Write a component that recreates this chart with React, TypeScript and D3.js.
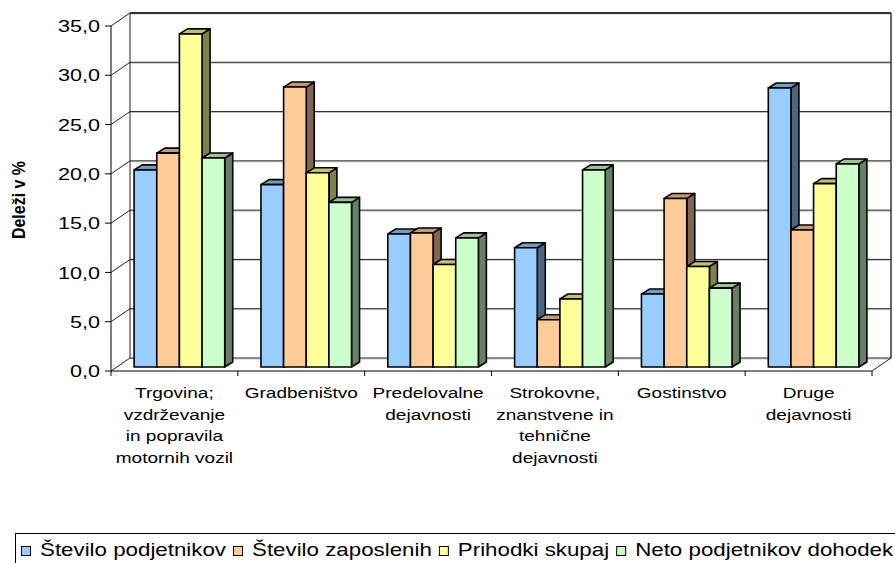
import React, { useEffect, useRef } from 'react';
import * as d3 from 'd3';

// category labels, one entry per line
const categories = [
    ['Trgovina;', 'vzdrževanje', 'in popravila', 'motornih vozil'],
    ['Gradbeništvo'],
    ['Predelovalne', 'dejavnosti'],
    ['Strokovne,', 'znanstvene in', 'tehnične', 'dejavnosti'],
    ['Gostinstvo'],
    ['Druge', 'dejavnosti'],
];
const seriesNames = ['Število podjetnikov', 'Število zaposlenih', 'Prihodki skupaj', 'Neto podjetnikov dohodek'];
const steviloPodjetnikov = [20.0, 18.5, 13.5, 12.1, 7.4, 28.3];
const steviloZaposlenih = [21.7, 28.4, 13.6, 4.8, 17.1, 13.9];
const prihodkiSkupaj = [33.8, 19.7, 10.4, 6.9, 10.2, 18.6];
const netoDohodek = [21.2, 16.7, 13.1, 20.0, 8.0, 20.6];
const yTicks = [0, 5, 10, 15, 20, 25, 30, 35];
const yTitle = 'Deleži v %';
const colors = ['#99CCFF', '#FFCC99', '#FFFF99', '#CCFFCC'];

const W = 895;
const H = 563;
const SX = 1.27; // the original text is stretched sideways
const FONT = '"Liberation Sans", Arial, sans-serif';

const shade = (c: string, k: number) => {
    const r = d3.rgb(c);
    return d3.rgb(r.r * k, r.g * k, r.b * k).formatHex();
};
const fmt = (v: number) => v.toFixed(1).replace('.', ',');

const App = () => {
    const svgRef = useRef<SVGSVGElement>(null);

    useEffect(() => {
        const svg = d3.select(svgRef.current);
        svg.selectAll('*').remove();

        const series = [steviloPodjetnikov, steviloZaposlenih, prihodkiSkupaj, netoDohodek];
        const x0 = 111, x1 = 872;
        const DX = 19, DY = -13; // depth of the plot box
        const BX = 5, BY = -4;   // bars' front plane
        const SDX = 8, SDY = -5; // bar depth

        const y = d3.scaleLinear().domain([0, 35]).range([371, 26]);
        const xBand = d3.scaleBand<number>()
            .domain(categories.map((_, i) => i))
            .range([x0, x1]);
        const bw = xBand.bandwidth();
        const w = bw / 5.6;
        const gap = bw - 4 * w;

        const grid = svg.append('g');
        // left wall diagonals + back wall gridlines
        yTicks.forEach(t => {
            const yy = y(t);
            grid.append('line')
                .attr('x1', x0 + DX).attr('x2', x1 + DX)
                .attr('y1', yy + DY + 1).attr('y2', yy + DY + 1)
                .attr('stroke', '#c8c8c8').attr('stroke-width', 1);
            grid.append('line')
                .attr('x1', x0 + DX).attr('x2', x1 + DX)
                .attr('y1', yy + DY).attr('y2', yy + DY)
                .attr('stroke', t === 35 ? '#333' : '#222')
                .attr('stroke-width', t === 35 ? 2 : 1);
            grid.append('line')
                .attr('x1', x0).attr('y1', yy)
                .attr('x2', x0 + DX).attr('y2', yy + DY)
                .attr('stroke', '#222').attr('stroke-width', 1);
        });
        grid.append('line')
            .attr('x1', x0 + DX).attr('x2', x0 + DX)
            .attr('y1', y(35) + DY).attr('y2', y(0) + DY)
            .attr('stroke', '#222');
        grid.append('line')
            .attr('x1', x1 + DX).attr('x2', x1 + DX)
            .attr('y1', y(35) + DY).attr('y2', y(0) + DY)
            .attr('stroke', '#333').attr('stroke-width', 1.5);
        // floor edges
        grid.append('line')
            .attr('x1', x1).attr('y1', y(0))
            .attr('x2', x1 + DX).attr('y2', y(0) + DY)
            .attr('stroke', '#222');

        // bars
        const bars = svg.append('g')
            .attr('stroke', '#000').attr('stroke-width', 1.6).attr('stroke-linejoin', 'round');
        categories.forEach((_, ci) => {
            series.forEach((vals, si) => {
                const v = vals[ci];
                const bx = (xBand(ci) as number) + gap / 2 + si * w + BX;
                const top = y(v) + BY;
                const bot = y(0) + BY;
                const c = colors[si];
                bars.append('path')
                    .attr('d', `M${bx + w},${bot}L${bx + w + SDX},${bot + SDY}L${bx + w + SDX},${top + SDY}L${bx + w},${top}Z`)
                    .attr('fill', shade(c, 0.5));
                bars.append('path')
                    .attr('d', `M${bx},${top}L${bx + SDX},${top + SDY}L${bx + w + SDX},${top + SDY}L${bx + w},${top}Z`)
                    .attr('fill', shade(c, 0.76));
                bars.append('rect')
                    .attr('x', bx).attr('y', top)
                    .attr('width', w).attr('height', bot - top)
                    .attr('fill', c);
            });
        });

        // axes
        const axes = svg.append('g').attr('stroke', '#000').attr('stroke-width', 1);
        axes.append('line').attr('x1', x0).attr('x2', x0).attr('y1', y(35)).attr('y2', y(0));
        axes.append('line').attr('x1', x0).attr('x2', x1).attr('y1', y(0)).attr('y2', y(0));
        yTicks.forEach(t => {
            axes.append('line').attr('x1', x0 - 6).attr('x2', x0).attr('y1', y(t)).attr('y2', y(t));
        });
        categories.map((_, i) => xBand(i) as number).concat([x1]).forEach(xx => {
            axes.append('line').attr('x1', xx).attr('x2', xx).attr('y1', y(0)).attr('y2', y(0) + 5);
        });

        // y tick labels
        yTicks.forEach(t => {
            svg.append('g')
                .attr('transform', `translate(100,${y(t)}) scale(${SX},1)`)
                .append('text')
                .attr('text-anchor', 'end').attr('dy', '0.36em')
                .attr('font-family', FONT).attr('font-size', 17).attr('fill', '#000')
                .text(fmt(t));
        });

        // category labels
        categories.forEach((lines, ci) => {
            const cx = (xBand(ci) as number) + bw / 2;
            lines.forEach((ln, k) => {
                svg.append('g')
                    .attr('transform', `translate(${cx},${398 + k * 21.7}) scale(${SX},1)`)
                    .append('text')
                    .attr('text-anchor', 'middle')
                    .attr('font-family', FONT).attr('font-size', 15).attr('fill', '#000')
                    .text(ln);
            });
        });

        // y title
        svg.append('g')
            .attr('transform', 'translate(18.5,200) rotate(-90) scale(1,1.1)')
            .append('text')
            .attr('text-anchor', 'middle').attr('dy', '0.36em')
            .attr('font-family', FONT).attr('font-size', 16).attr('font-weight', 'bold')
            .text(yTitle);

        // legend
        const LSX = 1.24;
        const leg = svg.append('g');
        leg.append('rect')
            .attr('x', 15.5).attr('y', 533.5).attr('width', 900).attr('height', 60)
            .attr('fill', 'none').attr('stroke', '#000');
        let lx = 21;
        seriesNames.forEach((name, i) => {
            leg.append('rect')
                .attr('x', lx + 0.5).attr('y', 546.5).attr('width', 9).attr('height', 9)
                .attr('fill', colors[i]).attr('stroke', '#000').attr('stroke-width', 1);
            const txt = leg.append('g')
                .attr('transform', `translate(${lx + 19},556) scale(${LSX},1)`)
                .append('text')
                .attr('font-family', FONT).attr('font-size', 18).attr('fill', '#000')
                .text(name);
            const tw = (txt.node() as SVGTextElement).getComputedTextLength() * LSX;
            lx += 19 + tw + 7;
        });
    }, []);

    return (
        <svg ref={svgRef} width={W} height={H}
            style={{ position: 'absolute', left: 0, top: 0, background: '#fff' }} />
    );
};

export default App;
